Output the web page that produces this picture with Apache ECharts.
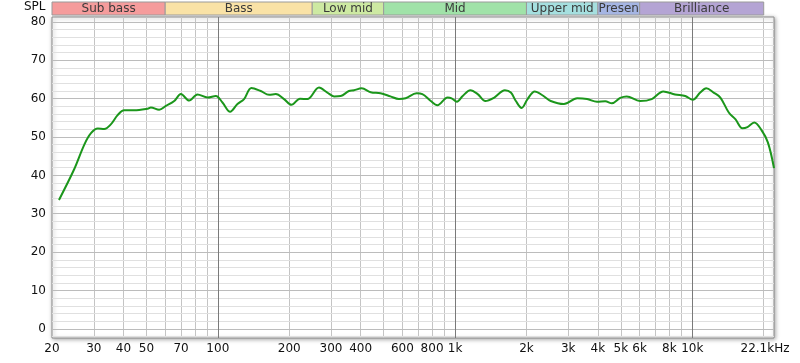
<!DOCTYPE html>
<html>
<head>
<meta charset="utf-8">
<script src="https://cdn.jsdelivr.net/npm/echarts@6/dist/echarts.min.js"></script>
<style>
html,body{margin:0;padding:0;background:#fff;}
#c{width:800px;height:363px;}
</style>
</head>
<body>
<div id="c"></div>
<script>
// ---- data ----
const freqs = [21.4, 24.8, 27.4, 29.2, 31.2, 33.2, 35.4, 37.8, 40.3, 44.4, 50.6, 52.2, 56.6, 60.4, 65.5, 69.9, 75.7, 82.1, 90.5, 98.1,
  104.6, 112.7, 121, 129, 138.6, 151.6, 164.5, 175.5, 190.2, 204.3, 222, 238.5, 267, 289.6, 309, 329.5, 357, 375, 404, 441,
  485, 534, 580, 619, 689, 728, 790, 843, 930, 967, 1018, 1077, 1160, 1246, 1342, 1463, 1622, 1719, 1804, 1908,
  2021, 2168, 2334, 2531, 2877, 3273, 3603, 3966, 4295, 4582, 4969, 5290, 6020, 6744, 7545, 8460, 9340, 10050, 10800, 11450,
  12300, 13130, 14250, 15220, 16260, 17080, 18240, 19490, 20820, 22100];
const spl = [33.6, 41.6, 48.1, 51.0, 52.2, 52.1, 53.3, 55.7, 57.0, 57.0, 57.4, 57.7, 57.1, 58.1, 59.4, 61.2, 59.5, 61.1, 60.3, 60.7,
  59.0, 56.6, 58.6, 59.9, 62.8, 62.0, 61.0, 61.2, 59.9, 58.4, 60.0, 59.9, 62.9, 61.6, 60.6, 60.7, 62.0, 62.2, 62.7, 61.7,
  61.4, 60.6, 59.9, 60.1, 61.4, 61.2, 59.4, 58.3, 60.3, 60.1, 59.2, 60.7, 62.2, 61.2, 59.4, 60.3, 62.2, 61.6, 59.4, 57.6,
  59.9, 61.9, 60.9, 59.4, 58.6, 60.1, 59.9, 59.2, 59.3, 58.8, 60.2, 60.6, 59.4, 59.9, 61.9, 61.1, 60.7, 59.7, 61.6, 62.7,
  61.6, 60.3, 56.4, 54.6, 52.3, 52.6, 53.8, 52.0, 48.6, 41.9];

const bandNames = ['Sub bass', 'Bass', 'Low mid', 'Mid', 'Upper mid', 'Presence', 'Brilliance'];
const bandStarts = [20, 60, 250, 500, 2000, 4000, 6000];
const bandEnds = [60, 250, 500, 2000, 4000, 6000, 20000];
const bandColors = ['#f59c9c', '#f9e2a6', '#cde9a2', '#a0e2a8', '#a5dfdf', '#a5b5e3', '#b4a4d4'];

const xGridMinor = [30, 40, 50, 60, 70, 80, 90, 200, 300, 400, 500, 600, 700, 800, 900,
  2000, 3000, 4000, 5000, 6000, 7000, 8000, 9000, 20000];
const xGridMajor = [100, 1000, 10000];
const xTickValues = [20, 30, 40, 50, 70, 100, 200, 300, 400, 600, 800, 1000, 2000, 3000, 4000, 5000, 6000, 8000, 10000, 22100];
const xTickLabels = ['20', '30', '40', '50', '70', '100', '200', '300', '400', '600', '800', '1k', '2k', '3k', '4k', '5k', '6k', '8k', '10k', '22.1kHz'];
const yMinorLines = [-2, 2, 4, 6, 8, 12, 14, 16, 18, 22, 24, 26, 28, 32, 34, 36, 38, 42, 44, 46, 48, 52, 54, 56, 58, 62, 64, 66, 68, 72, 74, 76, 78];
const yMajorLines = [0, 10, 20, 30, 40, 50, 60, 70, 80];
const yAxisRange = [-2.4, 81.3];
const xAxisRange = [20, 22100];

// ---- build ----
const FONT = 'DejaVu Sans';
const gridLines = [];
xGridMinor.forEach(v => gridLines.push({xAxis: v, lineStyle: {color: '#c4c4c4', width: 1, type: 'solid'}, label: {show: false}}));
yMinorLines.forEach(v => gridLines.push({yAxis: v, lineStyle: {color: '#e0e0e0', width: 1, type: 'solid'}, label: {show: false}}));
yMajorLines.forEach(v => gridLines.push({yAxis: v, lineStyle: {color: '#bcbcbc', width: 1, type: 'solid'},
  label: {show: true, position: 'start', distance: 6, formatter: String(v), color: '#111', fontSize: 12, fontFamily: FONT}}));
xGridMajor.forEach(v => gridLines.push({xAxis: v, lineStyle: {color: '#7a7a7a', width: 1, type: 'solid'}, label: {show: false}}));

const tickLabelLines = xTickValues.map((v, i) => ({xAxis: v, lineStyle: {color: 'rgba(0,0,0,0)', width: 1, type: 'solid'},
  label: {show: true, position: 'start', distance: 5, formatter: xTickLabels[i], color: '#111', fontSize: 12, fontFamily: FONT,
    padding: i === xTickValues.length - 1 ? [0, 18, 0, 0] : 0}}));

const chart = echarts.init(document.getElementById('c'), null, {renderer: 'canvas'});
chart.setOption({
  animation: false,
  backgroundColor: '#fff',
  title: {text: 'SPL', left: 24, top: 1, padding: 0, textStyle: {fontSize: 12, fontWeight: 'normal', color: '#111', fontFamily: FONT}},
  grid: [
    {left: 52, right: 26, top: 17, bottom: 25, show: true, backgroundColor: '#fff', borderColor: '#8c8c8c', borderWidth: 1,
      shadowBlur: 4, shadowColor: 'rgba(0,0,0,0.35)', shadowOffsetX: 1, shadowOffsetY: 1, containLabel: false},
    {left: 52, right: 26, top: 2, height: 13, show: false}
  ],
  xAxis: [
    {type: 'log', logBase: 10, min: xAxisRange[0], max: xAxisRange[1], gridIndex: 0,
      axisLine: {show: false}, axisTick: {show: false}, axisLabel: {show: false}, splitLine: {show: false}},
    {type: 'log', logBase: 10, min: xAxisRange[0], max: xAxisRange[1], gridIndex: 1, show: false}
  ],
  yAxis: [
    {type: 'value', min: yAxisRange[0], max: yAxisRange[1], gridIndex: 0,
      axisLine: {show: false}, axisTick: {show: false}, axisLabel: {show: false}, splitLine: {show: false}},
    {type: 'value', min: 0, max: 1, gridIndex: 1, show: false}
  ],
  series: [
    {
      type: 'line', xAxisIndex: 0, yAxisIndex: 0, data: [], z: 1, silent: true,
      markLine: {silent: true, symbol: ['none', 'none'], animation: false, data: gridLines}
    },
    {
      type: 'line', xAxisIndex: 0, yAxisIndex: 0, data: [], z: 2, silent: true,
      markLine: {silent: true, symbol: ['none', 'none'], animation: false, data: tickLabelLines}
    },
    {
      type: 'line', xAxisIndex: 0, yAxisIndex: 0, z: 5,
      data: freqs.map((f, i) => [f, spl[i]]),
      showSymbol: false, smooth: 0.35,
      lineStyle: {color: '#1b961b', width: 2},
      itemStyle: {color: '#1b961b'}
    },
    {
      type: 'custom', xAxisIndex: 1, yAxisIndex: 1, z: 5,
      data: bandNames.map((n, i) => [bandStarts[i], bandEnds[i]]),
      renderItem: function (params, api) {
        const s = api.coord([api.value(0), 0]);
        const e = api.coord([api.value(1), 1]);
        const w = e[0] - s[0];
        const h = s[1] - e[1];
        return {
          type: 'rect',
          shape: {x: s[0], y: e[1], width: w, height: h},
          style: {fill: bandColors[params.dataIndex], stroke: '#9a9a9a', lineWidth: 1},
          textContent: {
            style: {text: bandNames[params.dataIndex], fill: '#3a3a3a', font: '12px "' + FONT + '"',
              overflow: 'truncate', width: w + 6, ellipsis: ''}
          },
          textConfig: {position: 'inside'}
        };
      }
    }
  ]
});
</script>
</body>
</html>
